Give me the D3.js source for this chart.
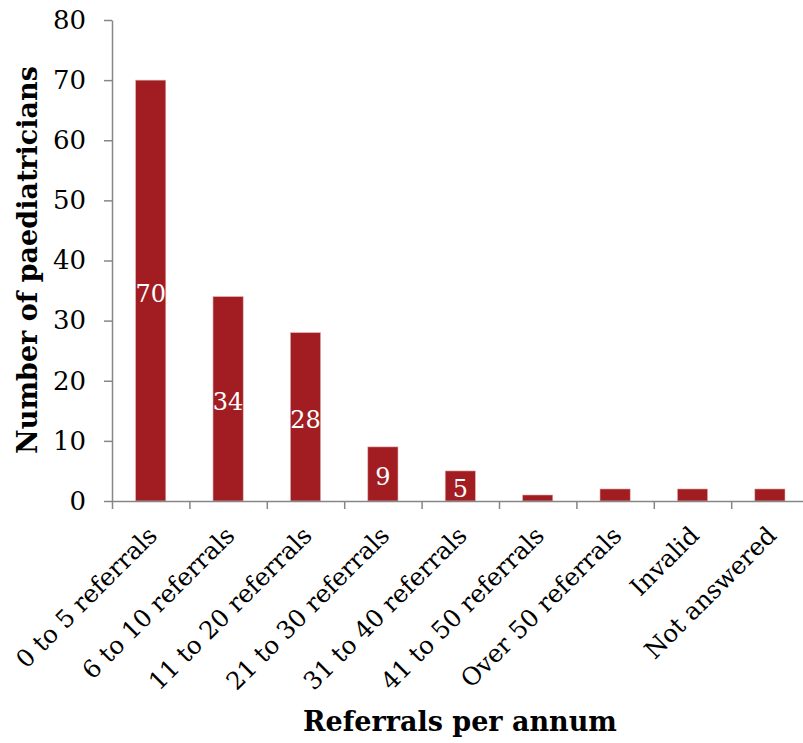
<!DOCTYPE html>
<html>
<head>
<meta charset="utf-8">
<script src="https://cdn.jsdelivr.net/npm/d3@7"></script>
<style>
  html, body { margin: 0; padding: 0; background: #fff; }
  svg { display: block; }
  text { font-family: "DejaVu Serif", Georgia, serif; }
</style>
</head>
<body>
<svg id="chart" width="803" height="743"></svg>
<script>
// Referrals per annum reported by paediatricians
const categories = [
  "0 to 5 referrals", "6 to 10 referrals", "11 to 20 referrals",
  "21 to 30 referrals", "31 to 40 referrals", "41 to 50 referrals",
  "Over 50 referrals", "Invalid", "Not answered"
];
const counts = [70, 34, 28, 9, 5, 1, 2, 2, 2];
// only these bars carry a value label
const labelled = [true, true, true, true, true, false, false, false, false];
const yTicks = [0, 10, 20, 30, 40, 50, 60, 70, 80];

const svg = d3.select("#chart");
const axisColor = "#868686";
const barColor = "#A11D21";

const plot = { left: 112, top: 20, bottom: 501, right: 808.6 };

const y = d3.scaleLinear().domain([0, 80]).range([plot.bottom, plot.top]);
const x = d3.scaleBand()
  .domain(categories)
  .range([plot.left, plot.right])
  .paddingInner(0.61)
  .paddingOuter(0.305);
// category boundaries for the x tick marks
const xEdge = d3.scaleLinear().domain([0, categories.length]).range([plot.left, plot.right]);

// bars
svg.append("g").selectAll("rect")
  .data(counts)
  .join("rect")
  .attr("x", (d, i) => x(categories[i]))
  .attr("y", d => y(d))
  .attr("width", x.bandwidth())
  .attr("height", d => y(0) - y(d))
  .attr("fill", barColor)
  .attr("stroke", "#e3b3b3")
  .attr("stroke-width", 0.6);

// value labels in the middle of each bar
svg.append("g").selectAll("text")
  .data(counts.map((d, i) => ({ v: d, i })).filter(d => labelled[d.i]))
  .join("text")
  .attr("x", d => x(categories[d.i]) + x.bandwidth() / 2)
  .attr("y", d => (y(d.v) + y(0)) / 2 + 3)
  .attr("dy", "0.35em")
  .attr("text-anchor", "middle")
  .attr("fill", "#fff")
  .attr("font-size", 24)
  .text(d => d.v);

// y axis
const yAxis = svg.append("g")
  .attr("transform", `translate(${plot.left},0)`)
  .call(d3.axisLeft(y).tickValues(yTicks).tickSize(8).tickSizeOuter(0).tickPadding(18));
yAxis.select(".domain").attr("stroke", axisColor).attr("stroke-width", 1.5);
yAxis.selectAll(".tick line").attr("stroke", axisColor).attr("stroke-width", 1.5);
yAxis.selectAll(".tick text")
  .attr("font-family", "DejaVu Serif")
  .attr("font-size", 26)
  .attr("fill", "#000");

// x axis with ticks at the category boundaries
const xAxis = svg.append("g")
  .attr("transform", `translate(0,${plot.bottom})`)
  .call(d3.axisBottom(xEdge).tickValues(d3.range(categories.length + 1)).tickSize(8).tickSizeOuter(0).tickFormat(""));
xAxis.select(".domain").attr("stroke", axisColor).attr("stroke-width", 1.5);
xAxis.selectAll(".tick line").attr("stroke", axisColor).attr("stroke-width", 1.5);

// rotated category labels
svg.append("g").selectAll("text")
  .data(categories)
  .join("text")
  .attr("transform", d => `translate(${x(d) + x.bandwidth() / 2 + 8},537) rotate(-45)`)
  .attr("text-anchor", "end")
  .attr("font-size", 24.5)
  .attr("fill", "#000")
  .text(d => d);

// axis titles
svg.append("text")
  .attr("transform", `translate(37,260) rotate(-90)`)
  .attr("text-anchor", "middle")
  .attr("font-size", 27)
  .attr("font-weight", "bold")
  .attr("fill", "#000")
  .text("Number of paediatricians");

svg.append("text")
  .attr("x", 460)
  .attr("y", 731)
  .attr("text-anchor", "middle")
  .attr("font-size", 27)
  .attr("font-weight", "bold")
  .attr("fill", "#000")
  .text("Referrals per annum");
</script>
</body>
</html>
